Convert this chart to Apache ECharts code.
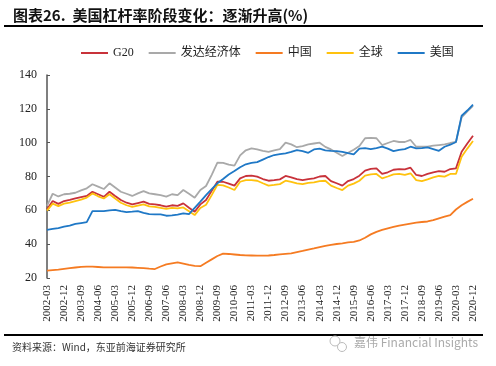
<!DOCTYPE html>
<html><head><meta charset="utf-8">
<script src="https://cdn.jsdelivr.net/npm/echarts@6/dist/echarts.min.js"></script>
<style>html,body{margin:0;padding:0;background:#fff}#c{width:496px;height:366px}</style>
</head><body><div id="c"></div>
<script>
// quarterly categories 2002-03 .. 2020-12
const categories = [];
for (let y = 2002; y <= 2020; y++) { for (const m of ['03','06','09','12']) categories.push(y + '-' + m); }
const yTicks = [20, 40, 60, 80, 100, 120, 140];
const seriesNames = ['G20', '发达经济体', '中国', '全球', '美国'];
const g20 = [60.6,65.5,63.8,65.5,66.2,67,67.8,68.5,71,69.5,68,71,68.5,66.1,64.5,63.5,64.3,65.1,63.8,63.5,63,62.2,63,62.6,64.1,61.5,59.2,63.5,66.1,71.5,76.9,76.9,75.8,74.6,78.9,80.3,80.5,79.9,78.5,77.5,77.8,78.3,80.3,79.5,78.5,77.9,78.5,78.9,80,80.3,77.3,76,74.6,77.3,78.5,80.5,83.5,84.5,84.8,81.5,82.5,84,84.4,84.2,85.2,80.9,80.3,81.5,82.5,83.2,82.8,84.4,84.8,94.6,99.5,104.1];
const developed = [62.7,69.8,68.2,69.5,69.8,70.4,71.8,73,75.4,74,72.6,76,73.5,71,69.8,68.5,70,71.4,70,69.5,69,68.1,69.5,69,72,69.8,67.5,72,74.4,81,88.2,88,87,86.4,92.5,95.5,96.6,96,95.2,94.6,95.5,96.2,100,99,97.3,98,99,99.5,100,97.5,96,94,92.1,94,95.8,98,102.6,102.8,102.6,98.6,99.8,101,100.4,100.4,101.6,97.6,97.6,97.6,98.2,98.6,99,99.8,100.4,115,118.5,121.8];
const china = [24.3,24.7,25,25.4,25.8,26.2,26.6,26.7,26.7,26.5,26.3,26.3,26.3,26.3,26.3,26.2,26,25.8,25.5,25.3,26.8,28,28.7,29.2,28.5,27.7,27.2,27,29,31,33,34.4,34.2,33.9,33.6,33.4,33.3,33.2,33.2,33.3,33.6,34,34.3,34.6,35.3,36,36.8,37.5,38.3,39,39.6,40.1,40.5,41,41.3,42.2,43.8,45.8,47.3,48.4,49.4,50.2,51,51.6,52.2,52.7,53.1,53.4,54.2,55.3,56.3,57.2,60.5,63,65,66.8];
const world = [59.8,64,62.5,64,64.6,65.5,66.3,67.5,70,68.3,67,69.5,67,64.5,63,62,62.8,63.5,62.3,62,61.5,60.8,61.5,61.2,61.7,59.5,57.2,61.4,63.3,69,75.1,74.8,73.5,72,76.9,77.9,77.8,77.5,76,74.6,75,75.5,77.5,76.8,76,75.5,76.2,76.5,77.3,77.5,74.6,73.2,72,74.6,75.8,77.5,80.5,81.2,81.5,78.9,80,81.3,81.5,80.9,81.9,77.9,77.3,78.3,79.5,80.3,79.9,81.5,81.5,91.7,96.5,101];
const usa = [48.5,49,49.5,50.3,51,52,52.5,53,59.5,59.5,59.5,60,60.3,59.5,59,59.2,59.5,58.5,57.8,57.6,57.6,56.8,57,57.5,58.2,57.8,61.5,65.1,69,72.5,76,78.5,81.2,83.2,85.5,87.2,88,88.5,90,91.5,92.7,93.2,93.7,94.5,95.6,95,94,96,96.5,95.5,95.2,95,94.6,93.8,93.1,96.5,96.8,96.2,96.8,97.6,96.5,95,95.8,96.2,97.6,96.6,96.8,97.2,96.2,95.2,97.6,98.8,100.4,115.9,119,122.5];

const colors = ['#C8323A', '#A9A9A9', '#F57B22', '#FFC20E', '#1F78C6'];
const dataSets = [g20, developed, china, world, usa];

const chart = echarts.init(document.getElementById('c'));
const serif = '"Liberation Serif", "Times New Roman", "Noto Sans CJK SC", serif';
chart.setOption({
  animation: false,
  color: colors,
  grid: { left: 47, right: 23, top: 75, bottom: 88 },
  legend: {
    left: 76, top: 42,
    icon: 'rect', itemWidth: 27, itemHeight: 2, itemGap: 15,
    textStyle: { fontFamily: serif, fontSize: 12, color: '#222' },
    data: seriesNames
  },
  xAxis: {
    type: 'category', data: categories, boundaryGap: false,
    axisLine: { show: false }, axisTick: { show: false },
    axisLabel: { rotate: 90, interval: 2, fontFamily: serif, fontSize: 11, color: '#222', margin: 7 }
  },
  yAxis: {
    type: 'value', min: yTicks[0], max: yTicks[yTicks.length - 1], interval: 20,
    axisLine: { show: true, lineStyle: { color: '#555', width: 1.5 } },
    axisTick: { show: true, inside: true, length: 3, lineStyle: { color: '#555' } },
    splitLine: { show: false },
    axisLabel: { fontFamily: serif, fontSize: 12, color: '#222', margin: 10 }
  },
  series: seriesNames.map((n, i) => ({
    name: n, type: 'line', data: dataSets[i], symbol: 'none',
    lineStyle: { width: 1.8, color: colors[i] }, z: i === 4 ? 5 : 2
  })),
  graphic: [
    { type: 'text', left: 13, top: 8, style: { text: '图表26.  美国杠杆率阶段变化：逐渐升高(%)', font: 'bold 15px "Noto Sans CJK SC", sans-serif', fill: '#111' } },
    { type: 'rect', shape: { x: 4, y: 25, width: 479, height: 2 }, style: { fill: '#000' } },
    { type: 'rect', shape: { x: 4, y: 334, width: 479, height: 2 }, style: { fill: '#000' } },
    { type: 'text', left: 12, top: 342, style: { text: '资料来源：Wind，东亚前海证券研究所', font: '10px "Noto Sans CJK SC", sans-serif', fill: '#333' } },
    { type: 'circle', shape: { cx: 335, cy: 341, r: 5 }, style: { fill: 'none', stroke: '#bbb', lineWidth: 1 } },
    { type: 'circle', shape: { cx: 342, cy: 347, r: 4.5 }, style: { fill: '#fff', stroke: '#bbb', lineWidth: 1 } },
    { type: 'text', left: 354, top: 336, style: { text: '嘉伟 Financial Insights', font: '12px "Noto Sans CJK SC", sans-serif', fill: '#aaa' } }
  ]
});
</script></body></html>
